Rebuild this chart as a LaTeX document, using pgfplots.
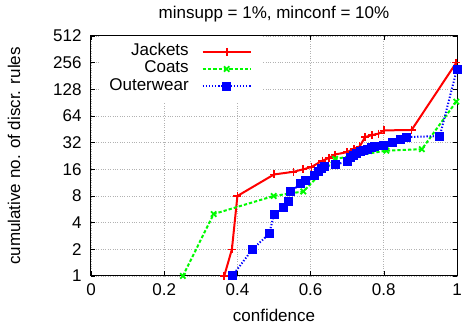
\documentclass[border=0pt]{standalone}
\usepackage{fontspec}
\setmainfont{Liberation Sans}
\usepackage{pgfplots}
\pgfplotsset{compat=1.18}
\definecolor{gpred}{RGB}{255,0,0}
\definecolor{gpgreen}{RGB}{0,250,0}
\definecolor{gpblue}{RGB}{0,0,255}
\begin{document}
\begin{tikzpicture}
\begin{axis}[
  name=ax,
  scale only axis, width=366bp, height=240bp,
  xmin=0, xmax=1, ymin=1, ymax=512,
  ymode=log, log basis y=2,
  xtick={0,0.2,0.4,0.6,0.8,1},
  xticklabels={0,0.2,0.4,0.6,0.8,1},
  ytick={1,2,4,8,16,32,64,128,256,512},
  yticklabels={1,2,4,8,16,32,64,128,256,512},
  /pgf/number format/assume math mode=true,
  xticklabel style={yshift=-4bp},
  yticklabel style={xshift=-6bp},
  tick align=inside, major tick length=4.5bp,
  tick style={black, line width=0.6bp},
  grid=major, grid style={gray!60, dotted, line width=0.8bp},
  axis line style={line width=1bp},
  font=\fontsize{17bp}{20bp}\selectfont,
  title={minsupp = 1\%, minconf = 10\%},
  title style={at={(rel axis cs:0.5,1)}, anchor=south, yshift=4bp},
  xlabel={confidence},
  xlabel style={at={(rel axis cs:0.5,0)}, anchor=base, yshift=-46bp},
  ylabel={cumulative no. of discr. rules},
  ylabel style={at={([xshift=-77bp]rel axis cs:0,0.5)}, anchor=center, rotate=0},
  clip=false,
  legend style={at={(rel axis cs:0.467,1)}, anchor=north east, draw=none, fill=white,
    inner xsep=10bp, inner ysep=7bp, row sep=0bp, column sep=13bp,
    nodes={inner sep=0bp, text height=12.5bp, text depth=4.7bp}},
  legend cell align=right,
  legend plot pos=right,
  legend image code/.code={\draw[mark repeat=2,mark phase=2,#1] plot coordinates {(0bp,0bp) (24bp,0bp) (48bp,0bp)};},
]
\addplot[gpred, line width=2bp, mark=+, mark size=4bp, mark options={solid, line width=1.6bp}] coordinates {
(0.364,1) (0.385,2) (0.4,8) (0.5,14) (0.553,15) (0.58,16) (0.602,17) (0.632,20) (0.65,21.5) (0.666,23.5) (0.7,25) (0.718,27.3) (0.734,29) (0.749,37) (0.768,39) (0.786,40.5) (0.801,44) (0.876,44.5) (0.998,256)};
\addlegendentry{Jackets}
\addplot[gpgreen, line width=2bp, dash pattern=on 3.3bp off 2bp, mark=x, mark size=3.8bp, mark options={solid, line width=1.8bp}] coordinates {
(0.251,1) (0.335,5) (0.499,8) (0.58,9) (0.667,21) (0.807,26) (0.904,27) (0.998,93)};
\addlegendentry{Coats}
\addplot[gpblue, line width=2bp, dash pattern=on 1.3bp off 1.8bp, mark=square*, mark size=3.5bp, mark options={solid}] coordinates {
(0.386,1) (0.441,2) (0.487,3) (0.5,5) (0.525,6) (0.54,7) (0.546,9) (0.573,11) (0.585,12) (0.612,13.5) (0.622,15) (0.63,16.4) (0.639,17) (0.668,18.2) (0.7,19.5) (0.709,21.9) (0.716,23.2) (0.725,24.3) (0.735,25.3) (0.744,26) (0.755,27) (0.766,28) (0.774,29.3) (0.8,30) (0.825,32) (0.845,35) (0.862,37) (0.953,38) (1.0,217)};
\addlegendentry{Outerwear}
\end{axis}
\pgfresetboundingbox
\path ([xshift=-91bp,yshift=-57bp]ax.south west) rectangle ([xshift=6bp,yshift=36bp]ax.north east);
\end{tikzpicture}
\end{document}
